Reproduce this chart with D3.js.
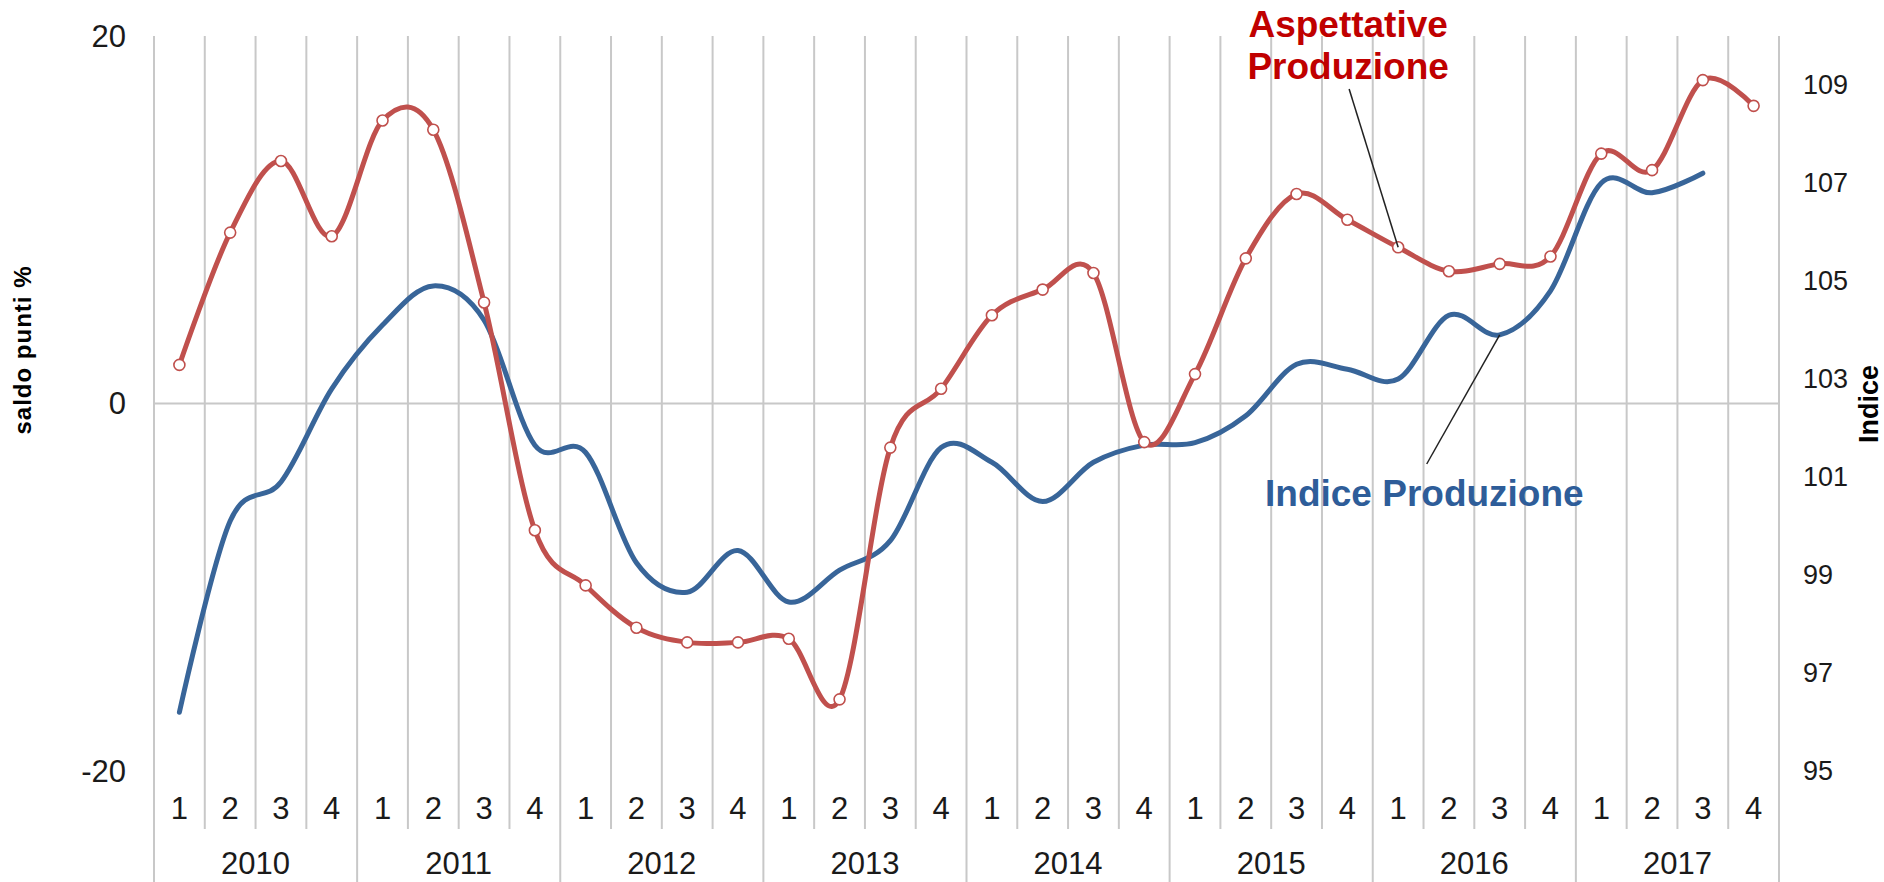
<!DOCTYPE html>
<html>
<head>
<meta charset="utf-8">
<script src="https://cdn.jsdelivr.net/npm/d3@7"></script>
<style>
  html, body { margin: 0; padding: 0; background: #fff; }
  svg { display: block; font-family: "Liberation Sans", Arial, sans-serif; }
</style>
</head>
<body>
<div id="chart"></div>
<script>
// Data: quarterly, 2010 Q1 .. 2017 Q4
const years = ["2010", "2011", "2012", "2013", "2014", "2015", "2016", "2017"];
const quarters = ["1", "2", "3", "4"];
// Aspettative Produzione (saldo punti %, left axis)
const aspettative = [
  2.1, 9.3, 13.2, 9.1,
  15.4, 14.9, 5.5, -6.9,
  -9.9, -12.2, -13.0, -13.0,
  -12.8, -16.1, -2.4, 0.8,
  4.8, 6.2, 7.1, -2.1,
  1.6, 7.9, 11.4, 10.0,
  8.5, 7.2, 7.6, 8.0,
  13.6, 12.7, 17.6, 16.2
];
// Indice Produzione (right axis), last quarter missing
const indice = [
  96.2, 100.1, 100.9, 102.8,
  104.1, 104.9, 104.2, 101.65,
  101.5, 99.25, 98.65, 99.5,
  98.45, 99.1, 99.7, 101.6,
  101.3, 100.5, 101.3, 101.65,
  101.7, 102.25, 103.3, 103.2,
  103.0, 104.3, 103.9, 104.8,
  107.0, 106.8, 107.2, null
];
const leftTicks = [-20, 0, 20];
const rightTicks = [95, 97, 99, 101, 103, 105, 107, 109];

// Canvas
const W = 1884, H = 882;
const plot = { left: 154, right: 1779, top: 36, bottom: 771 };

const svg = d3.select("#chart").append("svg")
  .attr("width", W)
  .attr("height", H);

// index list for every quarter
const idx = d3.range(years.length * quarters.length);

// Scales
const xSc = d3.scaleBand()
  .domain(idx)
  .range([plot.left, plot.right])
  .padding(0);
const xc = i => xSc(i) + xSc.bandwidth() / 2;

const yL = d3.scaleLinear().domain([-20, 20]).range([plot.bottom, plot.top]);
const yR = d3.scaleLinear().domain([95, 110]).range([plot.bottom, plot.top]);

const gridColor = "#c8c8c8";

// Vertical grid lines / category dividers
svg.append("g")
  .selectAll("line")
  .data(d3.range(idx.length + 1))
  .join("line")
    .attr("x1", i => i < idx.length ? xSc(i) : plot.right)
    .attr("x2", i => i < idx.length ? xSc(i) : plot.right)
    .attr("y1", plot.top)
    .attr("y2", i => (i % 4 === 0) ? H : 829)
    .attr("stroke", gridColor)
    .attr("stroke-width", 2);

// Zero line
svg.append("line")
  .attr("x1", plot.left).attr("x2", plot.right)
  .attr("y1", yL(0)).attr("y2", yL(0))
  .attr("stroke", gridColor)
  .attr("stroke-width", 2);

// Left axis labels
svg.append("g")
  .selectAll("text")
  .data(leftTicks)
  .join("text")
    .attr("x", 126)
    .attr("y", d => yL(d))
    .attr("dy", "0.35em")
    .attr("text-anchor", "end")
    .attr("font-size", 31)
    .attr("fill", "#1a1a1a")
    .text(d => d);

// Right axis labels
svg.append("g")
  .selectAll("text")
  .data(rightTicks)
  .join("text")
    .attr("x", 1803)
    .attr("y", d => yR(d))
    .attr("dy", "0.35em")
    .attr("font-size", 27)
    .attr("fill", "#1a1a1a")
    .text(d => d);

// Axis titles
svg.append("text")
  .attr("transform", `translate(31, 350) rotate(-90)`)
  .attr("text-anchor", "middle")
  .attr("font-size", 24)
  .attr("font-weight", "bold")
  .attr("letter-spacing", 1)
  .text("saldo  punti %");
svg.append("text")
  .attr("transform", `translate(1878, 404) rotate(-90)`)
  .attr("text-anchor", "middle")
  .attr("font-size", 27)
  .attr("font-weight", "bold")
  .text("Indice");

// Category labels: quarter then year
svg.append("g")
  .selectAll("text")
  .data(idx)
  .join("text")
    .attr("x", i => xc(i))
    .attr("y", 808)
    .attr("dy", "0.35em")
    .attr("text-anchor", "middle")
    .attr("font-size", 31)
    .attr("fill", "#1a1a1a")
    .text(i => quarters[i % 4]);
svg.append("g")
  .selectAll("text")
  .data(years)
  .join("text")
    .attr("x", (d, j) => (xSc(j * 4) + xSc(j * 4 + 3) + xSc.bandwidth()) / 2)
    .attr("y", 863)
    .attr("dy", "0.35em")
    .attr("text-anchor", "middle")
    .attr("font-size", 31)
    .attr("fill", "#1a1a1a")
    .text(d => d);

// Lines
const blue = "#386599", red = "#c0504d";

const lineBlue = d3.line()
  .defined(d => d != null)
  .x((d, i) => xc(i))
  .y(d => yR(d))
  .curve(d3.curveCardinal.tension(0));
svg.append("path")
  .attr("d", lineBlue(indice))
  .attr("fill", "none")
  .attr("stroke", blue)
  .attr("stroke-width", 5)
  .attr("stroke-linecap", "round");

const lineRed = d3.line()
  .x((d, i) => xc(i))
  .y(d => yL(d))
  .curve(d3.curveCardinal.tension(0));
svg.append("path")
  .attr("d", lineRed(aspettative))
  .attr("fill", "none")
  .attr("stroke", red)
  .attr("stroke-width", 5)
  .attr("stroke-linecap", "round");

svg.append("g")
  .selectAll("circle")
  .data(aspettative)
  .join("circle")
    .attr("cx", (d, i) => xc(i))
    .attr("cy", d => yL(d))
    .attr("r", 5.5)
    .attr("fill", "#fff")
    .attr("stroke", red)
    .attr("stroke-width", 1.6);

// Annotations with leader lines
const redIdx = 24, blueIdx = 26;
svg.append("line")
  .attr("x1", xc(redIdx) - 49).attr("y1", 89)
  .attr("x2", xc(redIdx)).attr("y2", yL(aspettative[redIdx]))
  .attr("stroke", "#222").attr("stroke-width", 1.5);
svg.append("line")
  .attr("x1", xc(blueIdx) - 73).attr("y1", 464)
  .attr("x2", xc(blueIdx)).attr("y2", yR(indice[blueIdx]))
  .attr("stroke", "#222").attr("stroke-width", 1.5);

const redLabel = svg.append("text")
  .attr("text-anchor", "middle")
  .attr("font-size", 37)
  .attr("font-weight", "bold")
  .attr("fill", "#c00000");
redLabel.append("tspan").attr("x", xc(redIdx) - 50).attr("y", 37).text("Aspettative");
redLabel.append("tspan").attr("x", xc(redIdx) - 50).attr("y", 79).text("Produzione");

svg.append("text")
  .attr("x", 1265)
  .attr("y", 506)
  .attr("font-size", 37)
  .attr("font-weight", "bold")
  .attr("fill", "#2e5d99")
  .text("Indice Produzione");
</script>
</body>
</html>
